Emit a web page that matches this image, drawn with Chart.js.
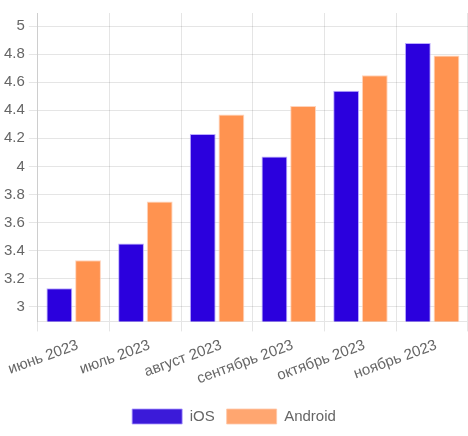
<!DOCTYPE html>
<html>
<head>
<meta charset="utf-8">
<script src="https://cdn.jsdelivr.net/npm/chart.js@4"></script>
<style>
  html, body { margin: 0; padding: 0; background: #fff; }
  #wrap { width: 468px; height: 436px; }
</style>
</head>
<body>
<div id="wrap"><canvas id="grafico"></canvas></div>
<script>
// meses y valores
const meses = ["июнь 2023", "июль 2023", "август 2023", "сентябрь 2023", "октябрь 2023", "ноябрь 2023"];
const ios = [3.13, 3.45, 4.23, 4.07, 4.54, 4.88];
const android = [3.33, 3.75, 4.37, 4.43, 4.65, 4.79];
const marcasY = [3, 3.2, 3.4, 3.6, 3.8, 4, 4.2, 4.4, 4.6, 4.8, 5];

Chart.defaults.font.family = "'Liberation Sans', Arial, sans-serif";
Chart.defaults.font.size = 15;
Chart.defaults.color = "#666";

new Chart(document.getElementById("grafico"), {
    type: 'bar',
    data: {
        labels: meses,
        datasets: [
            {
                label: "iOS",
                data: ios,
                backgroundColor: "#2b00dd",
                borderColor: "rgba(170,150,255,0.8)",
                borderWidth: 1
            },
            {
                label: "Android",
                data: android,
                backgroundColor: "#ff9350",
                borderColor: "rgba(255,200,170,0.8)",
                borderWidth: 1
            }
        ]
    },
    options: {
        responsive: true,
        maintainAspectRatio: false,
        animation: false,
        layout: { padding: { top: 12, right: 0, left: 0, bottom: 2 } },
        plugins: {
            legend: {
                position: 'bottom',
                labels: {
                    boxWidth: 50,
                    boxHeight: 15,
                    padding: 12,
                    generateLabels: function(chart){
                        const suaves = ["#3b1ad9", "#ffa670"];
                        return Chart.defaults.plugins.legend.labels.generateLabels(chart).map(function(it, i){
                            it.fillStyle = suaves[i];
                            return it;
                        });
                    }
                }
            },
            tooltip: { enabled: false }
        },
        scales: {
            x: {
                ticks: { minRotation: 20, maxRotation: 20, labelOffset: 4, padding: 5 },
                grid: { tickLength: 10 },
                afterFit: function(axis){
                    axis.height += 4;
                    axis.paddingLeft = 0;
                    axis.paddingRight = 0;
                }
            },
            y: {
                min: 2.894,
                max: 5.094,
                afterBuildTicks: function(axis){
                    axis.ticks = marcasY.map(function(v){ return { value: v }; });
                },
                ticks: {
                    padding: 4,
                    callback: function(v){ return String(v); }
                },
                grid: { tickLength: 9 }
            }
        }
    }
});
</script>
</body>
</html>
